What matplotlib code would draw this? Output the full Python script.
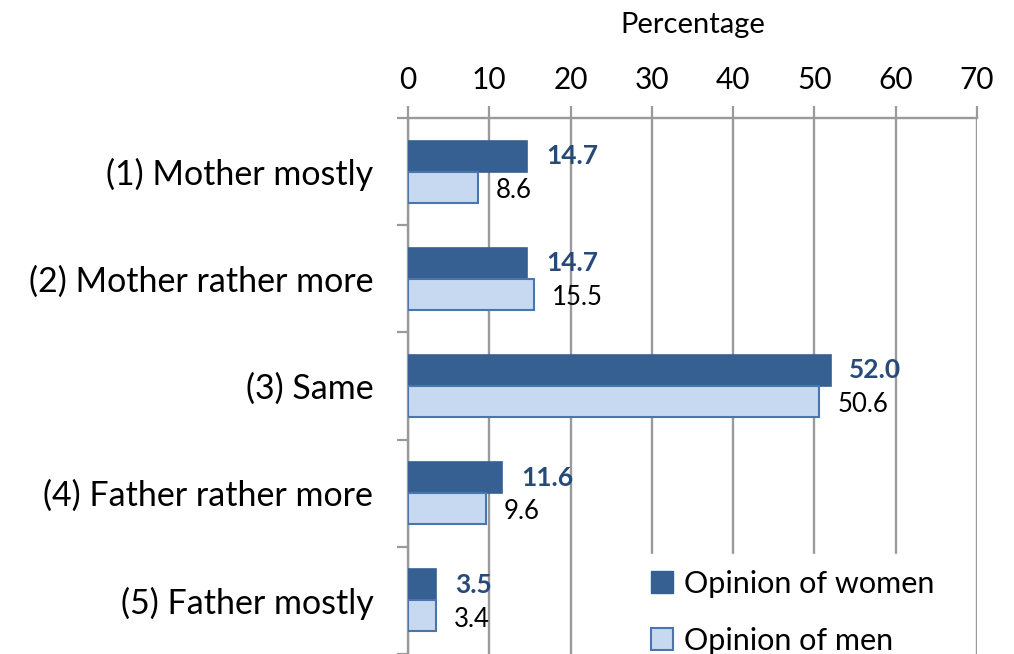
import matplotlib
matplotlib.use("Agg")
import matplotlib.pyplot as plt
from matplotlib.patches import Patch
import numpy as np

categories = ["(1) Mother mostly", "(2) Mother rather more", "(3) Same",
              "(4) Father rather more", "(5) Father mostly"]
women = [14.7, 14.7, 52.0, 11.6, 3.5]
men = [8.6, 15.5, 50.6, 9.6, 3.4]
xticks = [0, 10, 20, 30, 40, 50, 60, 70]

plt.rcParams["font.family"] = ["Lato", "DejaVu Sans"]

dark = "#376092"
light = "#C6D9F1"
edge = "#4A76AE"
label_dark = "#274A78"
grid = "#9A9A9A"

fig = plt.figure(figsize=(10.14, 6.54), dpi=100)
ax = fig.add_axes([408 / 1014, 0.0, (977 - 408) / 1014, (654 - 118) / 654])

y = np.arange(len(categories))
h = 0.29
ax.barh(y - h / 2, women, height=h, color=dark, edgecolor=dark, linewidth=1.2, zorder=3)
ax.barh(y + h / 2, men, height=h, color=light, edgecolor=edge, linewidth=1.5, zorder=3)

for yi, w, m in zip(y, women, men):
    ax.text(w + 2.3, yi - h / 2, f"{w:.1f}", va="center", ha="left",
            fontsize=19, fontweight="bold", color=label_dark, zorder=4)
    ax.text(m + 2.2, yi + h / 2 + 0.03, f"{m:.1f}", va="center", ha="left",
            fontsize=18.5, color="black", zorder=4)

ax.set_xlim(0, 70)
ax.set_ylim(len(categories) - 0.5, -0.5)

ax.xaxis.tick_top()
ax.xaxis.set_label_position("top")
ax.set_xticks(xticks)
ax.set_xticklabels([str(t) for t in xticks], fontsize=21.5)
ax.tick_params(axis="x", length=9, width=1.6, color=grid, pad=8)
ax.set_xlabel("Percentage", fontsize=21, labelpad=24)
ax.grid(axis="x", color=grid, linewidth=1.7, zorder=0)

# category boundaries carry the tick marks, labels sit at the centres
ax.set_yticks(np.arange(len(categories) + 1) - 0.5)
ax.set_yticklabels([])
ax.tick_params(axis="y", which="major", length=8, width=1.6, color=grid)
ax.set_yticks(y, minor=True)
ax.set_yticklabels(categories, minor=True, fontsize=24.5)
ax.tick_params(axis="y", which="minor", length=0, pad=25)

for side in ["right", "bottom"]:
    ax.spines[side].set_visible(False)
for side in ["top", "left"]:
    ax.spines[side].set_color(grid)
    ax.spines[side].set_linewidth(1.7)

handles = [Patch(facecolor=dark, edgecolor=dark, label="Opinion of women"),
           Patch(facecolor=light, edgecolor=edge, linewidth=1.5, label="Opinion of men")]
leg = ax.legend(handles=handles, loc="lower right", bbox_to_anchor=(0.978, -0.058),
                fontsize=22, frameon=True, fancybox=False, framealpha=1,
                edgecolor="white", handlelength=0.7, handleheight=0.7,
                handletextpad=0.35, labelspacing=0.95, borderpad=0.5)
leg.set_zorder(5)

fig.savefig("out.png", dpi=100)
